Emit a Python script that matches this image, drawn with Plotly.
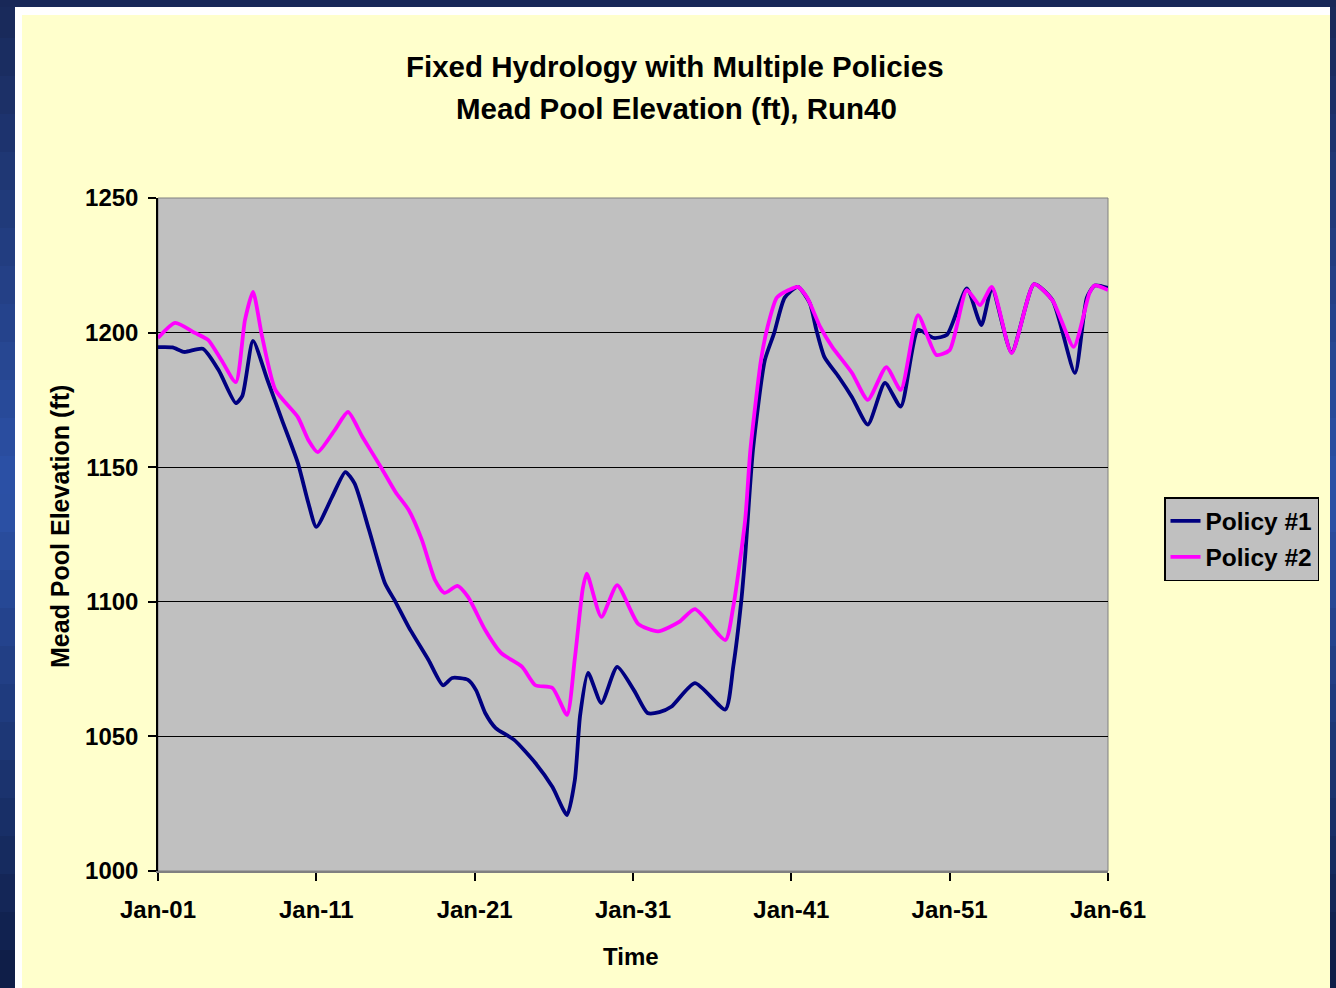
import plotly.graph_objects as go

# ---------------- data ----------------
policy1_dates = ["2001-01", "2001-12", "2002-09", "2003-11", "2004-11", "2005-12", "2006-05",
                 "2007-01", "2007-12", "2008-11", "2009-11", "2010-07", "2011-01", "2012-01",
                 "2012-11", "2013-06", "2014-05", "2015-05", "2016-01", "2016-11", "2018-02",
                 "2019-01", "2019-08", "2020-08", "2021-02", "2021-09", "2022-05", "2023-07",
                 "2024-11", "2025-12", "2026-11", "2027-05", "2027-09", "2028-03", "2029-01",
                 "2030-01", "2031-02", "2031-12", "2032-09", "2033-06", "2034-12", "2036-11",
                 "2037-05", "2037-11", "2038-02", "2038-08", "2039-05", "2039-12", "2040-08",
                 "2041-06", "2042-03", "2042-08", "2043-02", "2044-01", "2044-11", "2045-11",
                 "2046-12", "2047-12", "2049-01", "2050-01", "2050-11", "2052-02", "2053-01",
                 "2053-09", "2054-12", "2056-05", "2057-07", "2058-12", "2059-09", "2060-03",
                 "2061-01"]
policy1_values = [1194.6, 1194.5, 1192.8, 1194.0, 1186.0, 1173.8, 1176.5,
                  1196.9, 1182.4, 1167.5, 1151.6, 1136.7, 1127.8, 1139.0,
                  1148.2, 1144.0, 1126.7, 1107.0, 1100.0, 1090.6, 1078.4,
                  1069.0, 1071.7, 1071.0, 1067.2, 1058.7, 1053.1, 1048.7,
                  1040.1, 1031.2, 1020.8, 1033.8, 1058.0, 1073.6, 1062.4,
                  1075.8, 1066.9, 1058.7, 1059.0, 1061.0, 1069.8, 1060.0,
                  1075.8, 1100.0, 1117.0, 1156.6, 1189.8, 1199.8, 1213.0,
                  1217.0, 1211.0, 1201.0, 1191.0, 1183.5, 1176.0, 1165.8,
                  1181.3, 1172.5, 1201.0, 1198.0, 1199.2, 1216.4, 1202.8,
                  1216.6, 1192.6, 1218.0, 1212.0, 1185.0, 1213.0, 1217.5,
                  1216.6]

policy2_dates = ["2001-01", "2002-02", "2003-05", "2004-03", "2005-01", "2005-12", "2006-07",
                 "2007-01", "2007-08", "2008-06", "2009-11", "2010-07", "2011-02", "2012-03",
                 "2013-01", "2013-12", "2015-02", "2016-01", "2016-11", "2017-09", "2018-07",
                 "2019-02", "2019-12", "2020-08", "2021-09", "2022-09", "2024-01", "2024-11",
                 "2025-12", "2026-11", "2027-05", "2027-11", "2028-02", "2029-01", "2030-01",
                 "2031-05", "2032-08", "2033-12", "2034-12", "2036-11", "2037-05", "2038-02",
                 "2038-06", "2039-02", "2039-07", "2040-02", "2040-11", "2041-06", "2042-01",
                 "2042-11", "2043-08", "2044-11", "2045-11", "2047-01", "2047-12", "2049-01",
                 "2050-03", "2051-01", "2052-02", "2052-12", "2053-09", "2054-12", "2056-05",
                 "2057-07", "2058-11", "2059-11", "2060-03", "2061-01"]
policy2_values = [1198.0, 1203.6, 1199.9, 1197.3, 1189.8, 1181.6, 1204.7,
                  1215.1, 1198.4, 1178.7, 1168.6, 1160.1, 1155.6, 1163.8,
                  1170.5, 1161.2, 1150.0, 1140.8, 1134.1, 1123.0, 1108.1,
                  1103.3, 1105.9, 1101.8, 1089.5, 1081.0, 1075.8, 1069.0,
                  1068.0, 1058.0, 1079.0, 1105.0, 1110.5, 1094.4, 1106.2,
                  1091.8, 1089.0, 1092.5, 1097.3, 1085.8, 1098.0, 1130.4,
                  1156.4, 1189.8, 1202.0, 1213.0, 1215.8, 1217.0, 1213.0,
                  1202.0, 1194.7, 1185.0, 1175.0, 1187.2, 1178.7, 1206.5,
                  1191.7, 1193.5, 1215.8, 1210.2, 1217.0, 1192.4, 1218.0,
                  1212.0, 1194.7, 1214.7, 1217.5, 1215.8]

y_ticks = [1000, 1050, 1100, 1150, 1200, 1250]
series_names = ["Policy #1", "Policy #2"]
series_colors = ["#000080", "#FF00FF"]

# ---------------- geometry (pixels) ----------------
W, H = 1336, 988
L, R, T, B = 158, 1108, 198, 871
PW, PH = R - L, B - T

def px(x):
    return (x - L) / PW

def py(y):
    return (B - y) / PH

FONT = "Liberation Sans, Arial, sans-serif"

fig = go.Figure()
for name, color, xs, ys in [(series_names[0], series_colors[0], policy1_dates, policy1_values),
                            (series_names[1], series_colors[1], policy2_dates, policy2_values)]:
    fig.add_trace(go.Scatter(x=xs, y=ys, mode="lines", name=name, legendgroup=name,
                             line=dict(color=color, width=3.8, shape="spline", smoothing=0.6)))

shapes = []
def mix(c1, c2, t):
    return "rgb(%d,%d,%d)" % tuple(round(a + (b - a) * t) for a, b in zip(c1, c2))

top_c, mid_c, bot_c = (24, 40, 88), (44, 82, 168), (14, 28, 68)
nb = 26
for i in range(nb):
    y0 = H * i / nb
    y1 = H * (i + 1) / nb
    t = (i + 0.5) / nb
    if t < 0.5:
        c = mix(top_c, mid_c, t / 0.5)
    else:
        c = mix(mid_c, bot_c, (t - 0.5) / 0.5)
    for x0, x1 in [(0, 15), (1330, W)]:
        shapes.append(dict(type="rect", xref="paper", yref="paper", layer="below",
                           x0=px(x0), x1=px(x1), y0=py(y1), y1=py(y0),
                           fillcolor=c, line=dict(width=0)))
shapes.append(dict(type="rect", xref="paper", yref="paper", layer="below",
                   x0=px(0), x1=px(W), y0=py(7), y1=py(0),
                   fillcolor="rgb(24,40,88)", line=dict(width=0)))
shapes.append(dict(type="rect", xref="paper", yref="paper", layer="below",
                   x0=px(15), x1=px(1330), y0=py(H), y1=py(7),
                   fillcolor="#FFFFFF", line=dict(width=0)))
shapes.append(dict(type="rect", xref="paper", yref="paper", layer="below",
                   x0=px(22), x1=px(1330), y0=py(H), y1=py(15),
                   fillcolor="#FFFFCC", line=dict(width=0)))
shapes.append(dict(type="rect", xref="paper", yref="paper", layer="below",
                   x0=0, x1=1, y0=0, y1=1,
                   fillcolor="#C0C0C0", line=dict(color="#808080", width=1)))

annotations = [
    dict(text="<b>Fixed Hydrology with Multiple Policies</b>", xref="paper", yref="paper",
         x=px(675), y=py(66), xanchor="center", yanchor="middle", showarrow=False,
         font=dict(family=FONT, size=29.5, color="#000000")),
    dict(text="<b>Mead Pool Elevation (ft), Run40</b>", xref="paper", yref="paper",
         x=px(676), y=py(108), xanchor="center", yanchor="middle", showarrow=False,
         font=dict(family=FONT, size=29.5, color="#000000")),
    dict(text="<b>Time</b>", xref="paper", yref="paper",
         x=px(631), y=py(956), xanchor="center", yanchor="middle", showarrow=False,
         font=dict(family=FONT, size=24, color="#000000")),
    dict(text="<b>Mead Pool Elevation (ft)</b>", xref="paper", yref="paper", textangle=-90,
         x=px(60), y=py(527), xanchor="center", yanchor="middle", showarrow=False,
         font=dict(family=FONT, size=25, color="#000000")),
]

fig.update_layout(
    width=W, height=H,
    margin=dict(l=L, r=W - R, t=T, b=H - B, pad=0),
    paper_bgcolor="rgb(30,56,120)",
    plot_bgcolor="#C0C0C0",
    shapes=shapes,
    annotations=annotations,
    showlegend=True,
    legend=dict(x=px(1164), y=py(497), xanchor="left", yanchor="top",
                bgcolor="#C0C0C0", bordercolor="#000000", borderwidth=1.5,
                font=dict(family=FONT, size=24.5, color="#000000", weight="bold"),
                traceorder="grouped", tracegroupgap=1, itemwidth=30),
    xaxis=dict(type="date", range=["2001-01-01", "2061-01-01"],
               tick0="2001-01-01", dtick="M120", tickformat="%b-%y",
               showgrid=False, zeroline=False,
               showline=True, linecolor="#808080", linewidth=1.5,
               ticks="outside", ticklen=8, tickcolor="#000000", tickwidth=1.5,
               ticklabelstandoff=8,
               tickfont=dict(family=FONT, size=24, color="#000000", weight="bold")),
    yaxis=dict(range=[1000, 1250], tickvals=y_ticks,
               showgrid=True, gridcolor="#000000", gridwidth=1.3, zeroline=False,
               showline=True, linecolor="#000000", linewidth=1.5,
               ticks="outside", ticklen=8, tickcolor="#000000", tickwidth=1.5,
               ticklabelstandoff=5,
               tickfont=dict(family=FONT, size=24, color="#000000", weight="bold")),
)

fig.write_html("out.html")
